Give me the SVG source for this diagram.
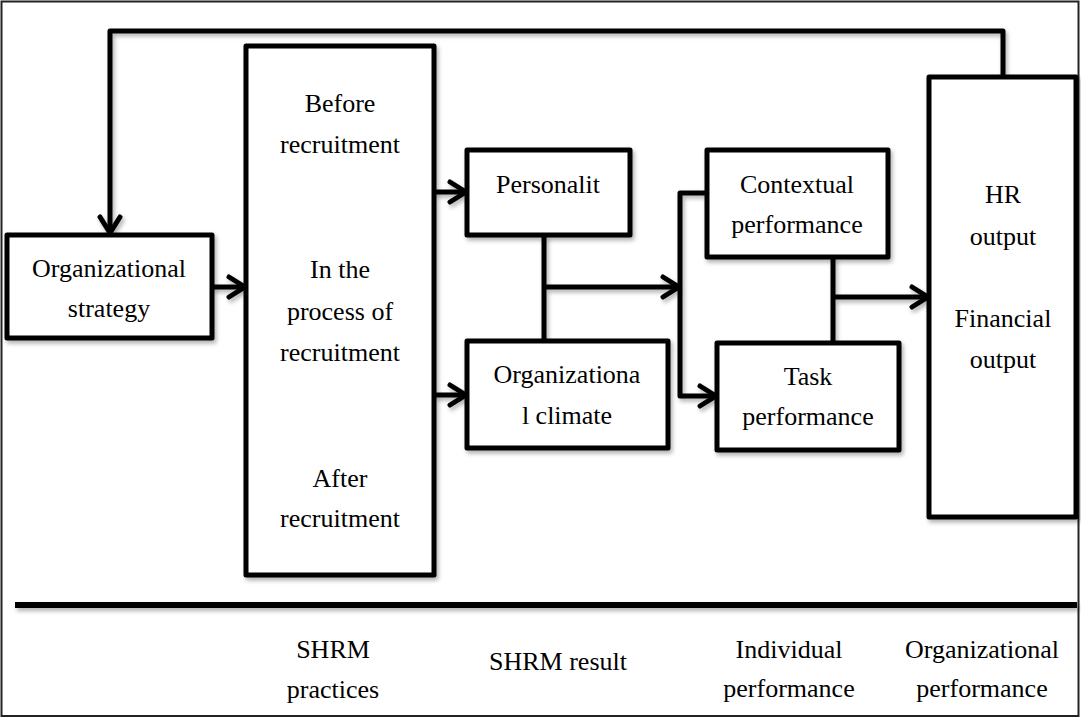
<svg xmlns="http://www.w3.org/2000/svg" width="1081" height="718" viewBox="0 0 1081 718">
  <style>
    .box { fill: #ffffff; stroke: #000000; stroke-width: 5; stroke-linejoin: round; }
    .line { fill: none; stroke: #000000; stroke-width: 5; stroke-linejoin: round; }
    .arrow { fill: none; stroke: #000000; stroke-width: 5; stroke-linejoin: round; marker-end: url(#chev); }
    .t { font-family: 'Liberation Serif', 'Times New Roman', serif; font-size: 26px; fill: #000000; text-anchor: middle; }
  </style>
  <defs>
    <marker id="chev" viewBox="0 0 22 26" refX="19" refY="13" markerWidth="22" markerHeight="26" markerUnits="userSpaceOnUse" orient="auto">
      <path d="M3,3 L19,13 L3,23" fill="none" stroke="#000000" stroke-width="5" stroke-linecap="round" stroke-linejoin="round"/>
    </marker>
    <filter id="sh" filterUnits="userSpaceOnUse" x="0" y="0" width="1081" height="718">
      <feDropShadow dx="2" dy="3" stdDeviation="2" flood-color="#000000" flood-opacity="0.3"/>
    </filter>
  </defs>

  <rect x="0" y="0" width="1081" height="718" fill="#ffffff"/>
  <rect x="1.5" y="1.5" width="1077" height="714.5" fill="none" stroke="#222222" stroke-width="2"/>

  <g id="connectors" filter="url(#sh)">
    <path class="arrow" d="M1003,77 V31 H110 V233"/>
    <path class="arrow" d="M212,287 H245"/>
    <path class="arrow" d="M434,192 H466"/>
    <path class="arrow" d="M434,395 H466"/>
    <path class="line" d="M544,235 V341"/>
    <path class="arrow" d="M544,287 H679"/>
    <path class="arrow" d="M706,193 H680 V396 H716"/>
    <path class="line" d="M833,257 V343"/>
    <path class="arrow" d="M833,297 H928"/>
  </g>

  <g id="org-strategy" font-family="Liberation Serif, serif">
    <rect class="box" x="7" y="235" width="205" height="103" filter="url(#sh)"/>
    <text class="t" x="109" y="277">Organizational</text>
    <text class="t" x="109" y="317">strategy</text>
  </g>

  <g id="shrm-practices" font-family="Liberation Serif, serif">
    <rect class="box" x="246" y="46" width="188" height="529" filter="url(#sh)"/>
    <text class="t" x="340" y="112">Before</text>
    <text class="t" x="340" y="153">recruitment</text>
    <text class="t" x="340" y="278">In the</text>
    <text class="t" x="340" y="320">process of</text>
    <text class="t" x="340" y="361">recruitment</text>
    <text class="t" x="340" y="487">After</text>
    <text class="t" x="340" y="527">recruitment</text>
  </g>

  <g id="personality" font-family="Liberation Serif, serif">
    <rect class="box" x="467" y="150" width="163" height="85" filter="url(#sh)"/>
    <text class="t" x="548" y="193">Personalit</text>
  </g>

  <g id="org-climate" font-family="Liberation Serif, serif">
    <rect class="box" x="467" y="341" width="201" height="107" filter="url(#sh)"/>
    <text class="t" x="567" y="383">Organizationa</text>
    <text class="t" x="567" y="424">l climate</text>
  </g>

  <g id="contextual-performance" font-family="Liberation Serif, serif">
    <rect class="box" x="707" y="150" width="181" height="107" filter="url(#sh)"/>
    <text class="t" x="797" y="193">Contextual</text>
    <text class="t" x="797" y="233">performance</text>
  </g>

  <g id="task-performance" font-family="Liberation Serif, serif">
    <rect class="box" x="717" y="343" width="182" height="107" filter="url(#sh)"/>
    <text class="t" x="808" y="385">Task</text>
    <text class="t" x="808" y="425">performance</text>
  </g>

  <g id="hr-financial-output" font-family="Liberation Serif, serif">
    <rect class="box" x="929" y="77" width="147" height="440" filter="url(#sh)"/>
    <text class="t" x="1003" y="203">HR</text>
    <text class="t" x="1003" y="245">output</text>
    <text class="t" x="1003" y="327">Financial</text>
    <text class="t" x="1003" y="368">output</text>
  </g>

  <g id="axis" font-family="Liberation Serif, serif">
    <rect x="15" y="602" width="1062" height="6" fill="#000000" filter="url(#sh)"/>
    <text class="t" x="333" y="658">SHRM</text>
    <text class="t" x="333" y="698">practices</text>
    <text class="t" x="558" y="670">SHRM result</text>
    <text class="t" x="789" y="658">Individual</text>
    <text class="t" x="789" y="697">performance</text>
    <text class="t" x="982" y="658">Organizational</text>
    <text class="t" x="982" y="697">performance</text>
  </g>
</svg>
